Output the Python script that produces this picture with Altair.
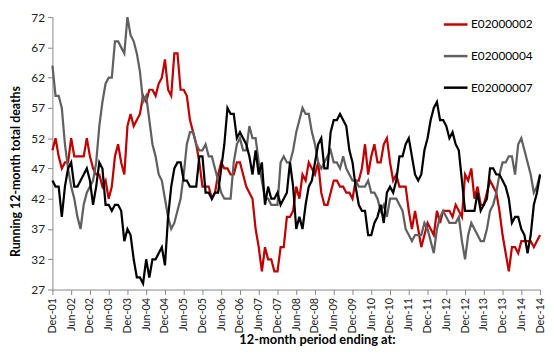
import json
import altair as alt
import pandas as pd

series_names = ["E02000002", "E02000004", "E02000007"]
series_colors = ["#C00000", "#606060", "#000000"]

tick_labels = ["Dec-01", "Jun-02", "Dec-02", "Jun-03", "Dec-03", "Jun-04", "Dec-04",
               "Jun-05", "Dec-05", "Jun-06", "Dec-06", "Jun-07", "Dec-07", "Jun-08",
               "Dec-08", "Jun-09", "Dec-09", "Jun-10", "Dec-10", "Jun-11", "Dec-11",
               "Jun-12", "Dec-12", "Jun-13", "Dec-13", "Jun-14", "Dec-14"]

y_ticks = [27, 32, 37, 42, 47, 52, 57, 62, 67, 72]

# monthly values, Dec-01 .. Dec-14 (157 months)
e02000002 = [50, 52, 49, 47, 48, 48, 52, 49, 49, 49,
             49, 52, 49, 47, 46, 46, 44, 45, 42, 44,
             49, 51, 48, 46, 54, 56, 54, 55, 56, 59,
             58, 60, 60, 59, 61, 62, 65, 60, 59, 66,
             66, 60, 60, 59, 55, 53, 51, 48, 44, 44,
             44, 42, 43, 46, 48, 47, 47, 46, 46, 48,
             48, 46, 44, 43, 42, 37, 34, 30, 34, 32,
             32, 30, 30, 34, 34, 39, 39, 40, 44, 42,
             46, 45, 48, 47, 46, 48, 43, 41, 41, 43,
             45, 45, 44, 44, 43, 43, 42, 45, 45, 47,
             51, 46, 49, 51, 48, 48, 51, 52, 48, 45,
             46, 44, 44, 44, 40, 37, 40, 37, 34, 36,
             38, 37, 36, 40, 38, 40, 40, 40, 39, 41,
             40, 39, 46, 45, 47, 42, 44, 41, 41, 43,
             45, 44, 43, 40, 36, 33, 30, 34, 34, 33,
             35, 35, 35, 35, 34, 35, 36]

e02000004 = [64, 59, 59, 57, 51, 47, 44, 42, 39, 37,
             41, 43, 44, 45, 48, 54, 58, 61, 62, 62,
             68, 68, 67, 66, 72, 69, 68, 66, 63, 58,
             59, 55, 51, 49, 46, 45, 42, 39, 37, 38,
             40, 42, 46, 51, 53, 53, 51, 50, 50, 51,
             49, 49, 47, 45, 43, 42, 42, 42, 48, 51,
             52, 50, 50, 54, 52, 52, 48, 45, 42, 42,
             41, 41, 41, 48, 49, 48, 48, 50, 53, 55,
             57, 56, 56, 53, 51, 48, 47, 48, 49, 50,
             48, 48, 47, 49, 47, 46, 45, 45, 44, 44,
             44, 45, 43, 43, 42, 40, 41, 39, 42, 42,
             42, 41, 40, 37, 36, 35, 36, 36, 36, 38,
             37, 35, 33, 37, 39, 40, 39, 38, 38, 38,
             39, 35, 32, 36, 38, 37, 36, 35, 35, 37,
             40, 41, 43, 46, 48, 48, 49, 49, 46, 51,
             52, 50, 48, 46, 43, 44, 46]

e02000007 = [45, 44, 44, 39, 44, 47, 48, 44, 44, 45,
             46, 47, 45, 41, 44, 48, 47, 41, 41, 40,
             41, 41, 40, 35, 37, 36, 32, 29, 29, 28,
             32, 29, 32, 32, 33, 34, 31, 39, 44, 47,
             48, 48, 45, 45, 44, 44, 44, 49, 49, 43,
             43, 42, 43, 43, 47, 51, 57, 56, 56, 52,
             53, 52, 51, 49, 46, 50, 46, 48, 41, 44,
             42, 42, 43, 41, 42, 43, 48, 44, 37, 39,
             37, 41, 44, 45, 48, 51, 52, 47, 47, 53,
             55, 55, 56, 55, 54, 50, 48, 44, 41, 40,
             40, 36, 36, 38, 39, 41, 38, 43, 44, 43,
             45, 49, 49, 51, 52, 49, 46, 45, 46, 50,
             52, 55, 57, 58, 55, 55, 54, 52, 53, 51,
             50, 45, 40, 40, 40, 40, 43, 40, 41, 42,
             47, 47, 46, 46, 45, 44, 42, 38, 39, 39,
             37, 36, 33, 36, 41, 43, 46]

rows = []
for name, vals in zip(series_names, [e02000002, e02000004, e02000007]):
    for i, v in enumerate(vals):
        rows.append({"month": i, "series": name, "value": v})
df = pd.DataFrame(rows)

n_months = len(e02000002) - 1
label_expr = json.dumps(tick_labels) + "[round(datum.value / 6)]"
FONT = "Lato"

chart = alt.Chart(df).mark_line(strokeWidth=2.25).encode(
    x=alt.X("month:Q",
            scale=alt.Scale(domain=[0, n_months], nice=False, zero=False),
            axis=alt.Axis(values=list(range(0, n_months + 1, 6)), labelExpr=label_expr,
                          labelAngle=270, labelFontSize=11, labelPadding=3,
                          title="12-month period ending at:", titleFontSize=13,
                          titleFontWeight="bold", titleX=268, titleY=51,
                          titleBaseline="middle", titleAlign="center")),
    y=alt.Y("value:Q",
            scale=alt.Scale(domain=[27, 72], nice=False, zero=False),
            axis=alt.Axis(values=y_ticks, labelFontSize=12, labelPadding=3,
                          title="Running 12-month total deaths", titleFontSize=12.5,
                          titleFontWeight="bold", titleAngle=270, titleX=-37, titleY=156,
                          titleBaseline="middle", titleAlign="center")),
    color=alt.Color("series:N",
                    scale=alt.Scale(domain=series_names, range=series_colors),
                    legend=alt.Legend(title=None, orient="none", legendX=395, legendY=-6,
                                      symbolType="stroke", symbolSize=576,
                                      symbolStrokeWidth=2.5, labelFontSize=12,
                                      labelOffset=2, rowPadding=12, labelColor="#000")),
).properties(
    width=494, height=276,
    padding={"left": 45, "top": 7, "right": 6, "bottom": 57},
    autosize=alt.AutoSizeParams(type="none"),
).configure_view(stroke=None).configure_axis(
    grid=False, domainColor="#868686", tickColor="#868686", tickSize=5,
    labelColor="#222", titleColor="#000", labelFont=FONT, titleFont=FONT,
).configure_legend(labelFont=FONT)

chart.save("out.html", embed_options={"renderer": "svg", "actions": False})
